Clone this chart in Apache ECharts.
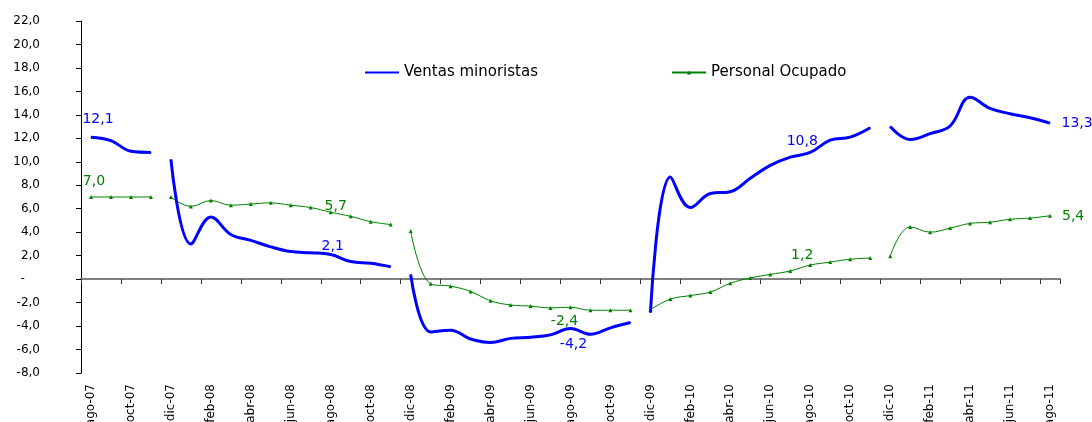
<!DOCTYPE html>
<html>
<head>
<meta charset="utf-8">
<script src="https://cdn.jsdelivr.net/npm/echarts@6/dist/echarts.min.js"></script>
<style>
  html, body { margin: 0; padding: 0; background: #fff; }
  #chart { width: 1092px; height: 422px; }
</style>
</head>
<body>
<div id="chart"></div>
<script>
  // meses ago-07 .. ago-11
  const months = [
    'ago-07', 'sep-07', 'oct-07', 'nov-07',
    'dic-07', 'ene-08', 'feb-08', 'mar-08', 'abr-08', 'may-08', 'jun-08', 'jul-08', 'ago-08', 'sep-08', 'oct-08', 'nov-08',
    'dic-08', 'ene-09', 'feb-09', 'mar-09', 'abr-09', 'may-09', 'jun-09', 'jul-09', 'ago-09', 'sep-09', 'oct-09', 'nov-09',
    'dic-09', 'ene-10', 'feb-10', 'mar-10', 'abr-10', 'may-10', 'jun-10', 'jul-10', 'ago-10', 'sep-10', 'oct-10', 'nov-10',
    'dic-10', 'ene-11', 'feb-11', 'mar-11', 'abr-11', 'may-11', 'jun-11', 'jul-11', 'ago-11'
  ];
  const ventas = [
    12.1, 11.8, 10.9, 10.8,
    10.2, 3.0, 5.3, 3.8, 3.3, 2.75, 2.35, 2.25, 2.1, 1.5, 1.35, 1.05,
    0.4, -4.5, -4.35, -5.1, -5.4, -5.05, -4.95, -4.75, -4.2, -4.7, -4.15, -3.7,
    -2.85, 8.7, 6.1, 7.3, 7.45, 8.6, 9.7, 10.4, 10.8, 11.85, 12.1, 12.9,
    13.0, 11.9, 12.4, 13.05, 15.5, 14.55, 14.1, 13.75, 13.3
  ];
  const personal = [
    7.0, 7.0, 7.0, 7.0,
    7.0, 6.2, 6.7, 6.3, 6.4, 6.5, 6.3, 6.1, 5.7, 5.35, 4.9, 4.65,
    4.1, -0.4, -0.6, -1.05, -1.85, -2.2, -2.3, -2.45, -2.4, -2.65, -2.65, -2.65,
    -2.6, -1.7, -1.4, -1.1, -0.35, 0.1, 0.4, 0.7, 1.2, 1.45, 1.7, 1.8,
    1.95, 4.45, 4.0, 4.35, 4.75, 4.85, 5.1, 5.2, 5.4
  ];
  // cada tramo empieza en diciembre (la linea se corta entre nov y dic)
  const segmentStarts = ['ago-07', 'dic-07', 'dic-08', 'dic-09', 'dic-10'];

  const BLUE = '#0000ff';
  const GREEN = '#008000';
  const FONT = 'DejaVu Sans';

  // etiquetas de datos (posicion por indice)
  const ventasLabels = {
    0: {position: 'top', distance: 6, offset: [7, -4]},
    12: {position: 'top', distance: 0, offset: [2, -1]},
    24: {position: 'bottom', distance: 8, offset: [3, 0]},
    36: {position: 'top', distance: 0, offset: [-8, -4]},
    48: {position: 'right', distance: 11, offset: [0, 0]}
  };
  const personalLabels = {
    0: {position: 'top', distance: 4, offset: [3, -3]},
    12: {position: 'top', distance: 0, offset: [5, 3]},
    24: {position: 'bottom', distance: 5, offset: [-6, 0]},
    36: {position: 'top', distance: 0, offset: [-8, -1]},
    48: {position: 'right', distance: 10, offset: [0, 1]}
  };

  function fmt(v) {
    return Number(v).toFixed(1).replace('.', ',');
  }

  function buildSegments(name, values, labels, color, extra) {
    const starts = segmentStarts.map(m => months.indexOf(m));
    const out = [];
    starts.forEach((s, k) => {
      const e = k < starts.length - 1 ? starts[k + 1] - 1 : months.length - 1;
      const data = values.map((v, i) => {
        if (i < s || i > e) return null;
        if (labels[i]) {
          return {
            value: v,
            label: Object.assign({
              show: true,
              color: color,
              fontFamily: FONT,
              fontSize: 14,
              formatter: p => fmt(p.value)
            }, labels[i])
          };
        }
        return v;
      });
      out.push(Object.assign({
        name: name,
        type: 'line',
        data: data,
        smooth: 0.4,
        connectNulls: false,
        showSymbol: true,
        showAllSymbol: true,
        xAxisIndex: 0,
        color: color
      }, extra));
    });
    return out;
  }

  const series = [].concat(
    buildSegments('Personal Ocupado', personal, personalLabels, GREEN, {
      symbol: 'triangle',
      symbolSize: 4,
      lineStyle: {width: 1, color: GREEN},
      itemStyle: {color: GREEN},
      z: 2
    }),
    buildSegments('Ventas minoristas', ventas, ventasLabels, BLUE, {
      symbol: 'circle',
      symbolSize: 1,
      lineStyle: {width: 3, color: BLUE},
      itemStyle: {color: BLUE},
      z: 3
    })
  );

  const chart = echarts.init(document.getElementById('chart'));
  chart.setOption({
    animation: false,
    backgroundColor: '#fff',
    grid: {left: 81, right: 32, top: 21, bottom: 49, outerBoundsMode: 'none'},
    legend: {
      data: [
        {name: 'Ventas minoristas', itemStyle: {opacity: 0}},
        {name: 'Personal Ocupado'}
      ],
      left: 364,
      top: 65,
      padding: 0,
      itemWidth: 34,
      itemHeight: 5,
      itemGap: 133,
      textStyle: {fontFamily: FONT, fontSize: 15, color: '#000'}
    },
    xAxis: [{
      type: 'category',
      data: months,
      position: 'bottom',
      axisLine: {show: false, onZero: false},
      axisTick: {show: false},
      axisLabel: {
        interval: 1,
        rotate: 90,
        margin: 11,
        fontFamily: FONT,
        fontSize: 12,
        color: '#000'
      }
    }, {
      type: 'category',
      data: months,
      position: 'bottom',
      axisLine: {show: true, onZero: true, lineStyle: {color: '#808080', width: 2}},
      axisTick: {show: true, interval: 1, length: 5, lineStyle: {color: '#333', width: 1}},
      axisLabel: {show: false}
    }],
    yAxis: {
      type: 'value',
      min: -8,
      max: 22,
      interval: 2,
      splitLine: {show: false},
      axisLine: {show: true, lineStyle: {color: '#000', width: 1}},
      axisTick: {show: true, length: 5, lineStyle: {color: '#000'}},
      axisLabel: {
        margin: 41,
        fontFamily: FONT,
        fontSize: 12,
        color: '#000',
        formatter: v => v === 0 ? '-    ' : fmt(v)
      }
    },
    series: series
  });
</script>
</body>
</html>
